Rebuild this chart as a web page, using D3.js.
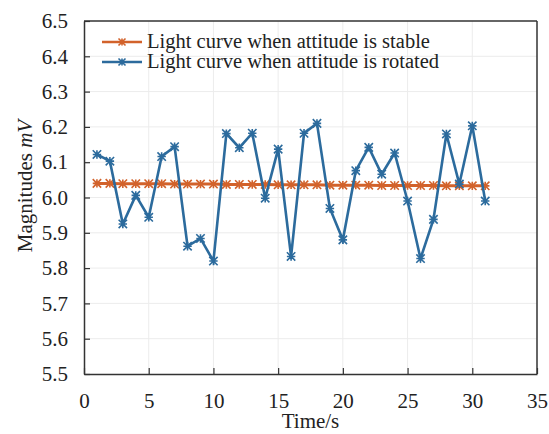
<!DOCTYPE html>
<html><head><meta charset="utf-8">
<script src="https://cdn.jsdelivr.net/npm/d3@7"></script>
<style>body{margin:0;background:#fff}svg{display:block}svg text{font-family:"Liberation Serif","Times New Roman",Times,"DejaVu Serif",serif !important;}</style>
</head><body>
<svg id="c" width="549" height="434"></svg>
<script>
const times = [1,2,3,4,5,6,7,8,9,10,11,12,13,14,15,16,17,18,19,20,21,22,23,24,25,26,27,28,29,30,31];
const stable = [6.040,6.040,6.039,6.039,6.039,6.039,6.038,6.038,6.038,6.038,6.037,6.037,6.037,6.037,6.036,6.036,6.036,6.036,6.035,6.035,6.035,6.035,6.034,6.034,6.034,6.034,6.034,6.033,6.033,6.033,6.033];
const rotated = [6.122,6.103,5.925,6.006,5.944,6.116,6.144,5.862,5.884,5.820,6.181,6.141,6.182,5.998,6.137,5.833,6.182,6.210,5.969,5.880,6.076,6.142,6.066,6.126,5.990,5.827,5.938,6.180,6.038,6.203,5.990];
const xTicks = [0,5,10,15,20,25,30,35];
const yTicks = [5.5,5.6,5.7,5.8,5.9,6.0,6.1,6.2,6.3,6.4,6.5];
const seriesNames = ["Light curve when attitude is stable","Light curve when attitude is rotated"];
const colors = ["#d2622b","#2c6b9d"];

const svg = d3.select("#c");
const L=84,R=537,T=21,B=374;
const x = d3.scaleLinear().domain([0,35]).range([L,R]);
const y = d3.scaleLinear().domain([5.5,6.5]).range([B,T]);
const FS = 21;

svg.append("g").selectAll("line").data(xTicks.slice(1,-1)).join("line")
  .attr("x1",d=>x(d)).attr("x2",d=>x(d)).attr("y1",T).attr("y2",B)
  .attr("stroke","#ececec").attr("stroke-width",1);
svg.append("g").selectAll("line").data(yTicks.slice(1,-1)).join("line")
  .attr("y1",d=>y(d)).attr("y2",d=>y(d)).attr("x1",L).attr("x2",R)
  .attr("stroke","#ececec").attr("stroke-width",1);

const xAxis = svg.append("g").attr("transform",`translate(0,${B})`)
  .call(d3.axisBottom(x).tickValues(xTicks).tickFormat(d3.format("d")).tickSizeInner(-6).tickSizeOuter(0).tickPadding(19));
const yAxis = svg.append("g").attr("transform",`translate(${L},0)`)
  .call(d3.axisLeft(y).tickValues(yTicks).tickFormat(d3.format(".1f")).tickSizeInner(-6).tickSizeOuter(0).tickPadding(16));
[xAxis,yAxis].forEach(a=>{
  a.attr("font-family",null);
  a.selectAll("text").attr("font-size",FS).attr("fill","#222");
  a.selectAll("line").attr("stroke","#333").attr("stroke-width",1.2);
  a.select(".domain").attr("stroke","#333").attr("stroke-width",1.5);
});
svg.append("line").attr("x1",L).attr("x2",R).attr("y1",T).attr("y2",T).attr("stroke","#333").attr("stroke-width",1.5);
svg.append("line").attr("x1",R).attr("x2",R).attr("y1",T).attr("y2",B).attr("stroke","#333").attr("stroke-width",1.5);

function star(g, cx, cy, col, r){
  const p = `M${cx-r},${cy-r}L${cx+r},${cy+r}M${cx-r},${cy+r}L${cx+r},${cy-r}M${cx-r},${cy}L${cx+r},${cy}M${cx},${cy-r}L${cx},${cy+r}`;
  g.append("path").attr("d",p).attr("stroke",col).attr("stroke-width",1.6).attr("fill","none");
}

const line = d3.line().x((d,i)=>x(times[i])).y(d=>y(d));
[stable,rotated].forEach((s,k)=>{
  const g = svg.append("g");
  g.append("path").datum(s).attr("d",line).attr("fill","none").attr("stroke",colors[k]).attr("stroke-width",k===0?3:2.6).attr("stroke-linejoin","miter");
  s.forEach((v,i)=>star(g,x(times[i]),y(v),colors[k],4.2));
});

const lg = svg.append("g");
seriesNames.forEach((n,k)=>{
  const yy = 42 + k*20;
  lg.append("line").attr("x1",102).attr("x2",142).attr("y1",yy).attr("y2",yy).attr("stroke",colors[k]).attr("stroke-width",2.6);
  star(lg,122,yy,colors[k],3.5);
  lg.append("text").attr("x",147).attr("y",yy+6).attr("font-size",20.5).attr("fill","#222").text(n);
});

svg.append("text").attr("x",(L+R)/2).attr("y",428).attr("text-anchor","middle")
  .attr("font-size",FS).attr("fill","#222").text("Time/s");
const yt = svg.append("text").attr("transform",`translate(32,186) rotate(-90)`).attr("text-anchor","middle")
  .attr("font-size",FS).attr("fill","#222");
yt.append("tspan").text("Magnitudes ");
yt.append("tspan").attr("font-style","italic").text("mV");
</script>
</body></html>
